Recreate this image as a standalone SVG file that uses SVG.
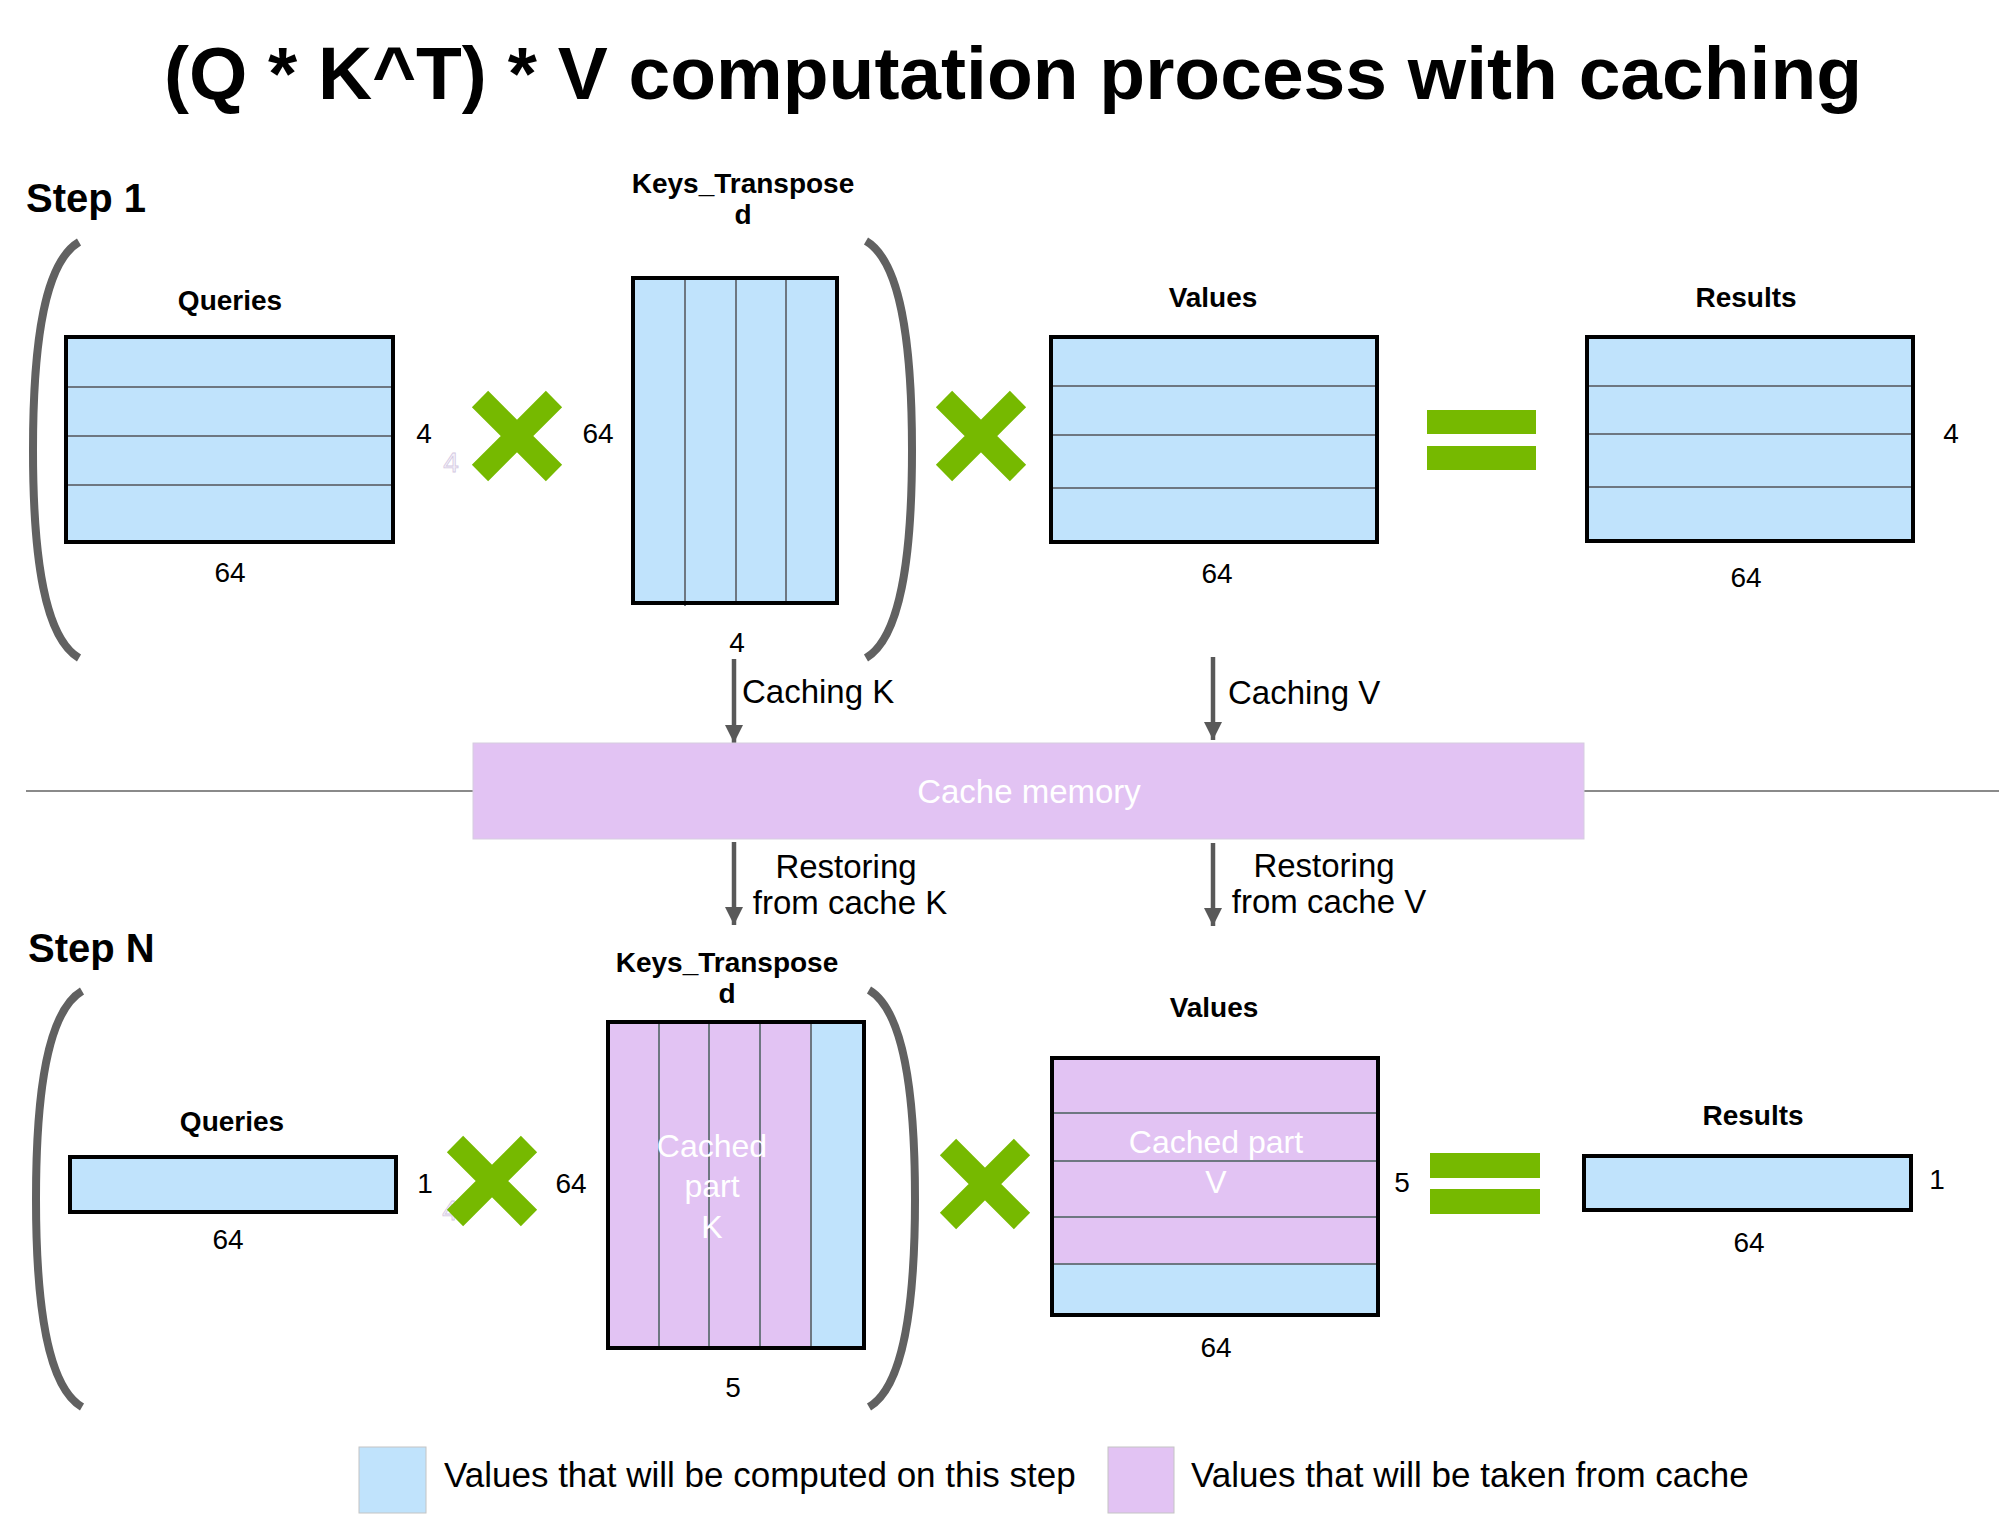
<svg xmlns="http://www.w3.org/2000/svg" width="1999" height="1519" viewBox="0 0 1999 1519">
<defs>
<style>
.bold{font-family:"Liberation Sans",Arial,sans-serif;font-weight:bold;fill:#000}
.reg{font-family:"Liberation Sans",Arial,sans-serif;fill:#000}
.lbl{font-size:28px;text-anchor:middle}
.num{font-size:28px;text-anchor:middle}
.ann{font-size:33px}
.white{fill:#ffffff}
.blue{fill:#C0E3FC}
.purple{fill:#E2C3F3}
.frame{fill:none;stroke:#000;stroke-width:4}
.row{stroke:#6E7781;stroke-width:2}
.bracket{fill:none;stroke:#616161;stroke-width:8}
.times{stroke:#76B900;stroke-width:23;stroke-linecap:butt}
.eq{fill:#76B900}
.arrow{stroke:#595959;stroke-width:4.5;fill:none;marker-end:url(#ah)}
.faint{font-family:"Liberation Sans",Arial,sans-serif;font-size:28px;fill:#f6f2fa;stroke:#d4c9e2;stroke-width:0.8;text-anchor:middle}
</style>
<marker id="ah" viewBox="0 0 10 10" refX="10" refY="5" markerWidth="18" markerHeight="20" markerUnits="userSpaceOnUse" orient="auto">
<path d="M0,0 L10,5 L0,10 Z" fill="#595959"/>
</marker>
</defs>
<rect width="1999" height="1519" fill="#ffffff"/>

<g id="title">
<text class="bold" x="1013" y="99" font-size="75" text-anchor="middle">(Q * K^T) * V computation process with caching</text>
</g>

<g id="connectors">
<line x1="26" y1="791" x2="1999" y2="791" stroke="#8a8a8a" stroke-width="2"/>
<line class="arrow" x1="734" y1="659" x2="734" y2="743"/>
<line class="arrow" x1="1213" y1="657" x2="1213" y2="740"/>
<line class="arrow" x1="734" y1="842" x2="734" y2="925"/>
<line class="arrow" x1="1213" y1="843" x2="1213" y2="926"/>
<text class="reg ann" x="742" y="703">Caching K</text>
<text class="reg ann" x="1228" y="704">Caching V</text>
<text class="reg ann" x="846" y="878" text-anchor="middle">Restoring</text>
<text class="reg ann" x="850" y="914" text-anchor="middle">from cache K</text>
<text class="reg ann" x="1324" y="877" text-anchor="middle">Restoring</text>
<text class="reg ann" x="1329" y="913" text-anchor="middle">from cache V</text>
</g>

<g id="cache-memory">
<rect x="473" y="743" width="1111" height="96" fill="#E2C3F3" stroke="#d6cde0" stroke-width="1"/>
<text class="reg white" x="1029" y="803" font-size="33" text-anchor="middle">Cache memory</text>
</g>

<!-- STEP 1 -->
<g id="step1-label"><text class="bold" x="26" y="212" font-size="40">Step 1</text></g>

<g id="step1-brackets">
<path class="bracket" d="M79,242 C45,262 33,340 33,450 C33,560 45,638 79,658"/>
<path class="bracket" d="M866,241 C900,261 912,340 912,450 C912,560 900,638 866,658"/>
</g>

<g id="step1-queries">
<text class="bold lbl" x="230" y="310">Queries</text>
<rect class="blue" x="66" y="337" width="327" height="205"/>
<line class="row" x1="66" y1="387" x2="393" y2="387"/>
<line class="row" x1="66" y1="436" x2="393" y2="436"/>
<line class="row" x1="66" y1="485" x2="393" y2="485"/>
<rect class="frame" x="66" y="337" width="327" height="205"/>
<text class="reg num" x="230" y="582">64</text>
<text class="reg num" x="424" y="443">4</text>
<text class="faint" x="451" y="472">4</text>
</g>

<g id="step1-times1"><path class="times" d="M480,399 L554,473 M554,399 L480,473"/></g>

<g id="step1-keys">
<text class="bold lbl" x="743" y="193">Keys_Transpose</text>
<text class="bold lbl" x="743" y="224">d</text>
<text class="reg num" x="598" y="443">64</text>
<rect class="blue" x="633" y="278" width="204" height="325"/>
<line class="row" x1="685" y1="278" x2="685" y2="606"/>
<line class="row" x1="736" y1="278" x2="736" y2="603"/>
<line class="row" x1="786" y1="278" x2="786" y2="603"/>
<rect class="frame" x="633" y="278" width="204" height="325"/>
<text class="reg num" x="737" y="652">4</text>
</g>

<g id="step1-times2"><path class="times" d="M944,399 L1018,473 M1018,399 L944,473"/></g>

<g id="step1-values">
<text class="bold lbl" x="1213" y="307">Values</text>
<rect class="blue" x="1051" y="337" width="326" height="205"/>
<line class="row" x1="1051" y1="386" x2="1377" y2="386"/>
<line class="row" x1="1051" y1="435" x2="1377" y2="435"/>
<line class="row" x1="1051" y1="488" x2="1377" y2="488"/>
<rect class="frame" x="1051" y="337" width="326" height="205"/>
<text class="reg num" x="1217" y="583">64</text>
</g>

<g id="step1-equals">
<rect class="eq" x="1427" y="410" width="109" height="24"/>
<rect class="eq" x="1427" y="446" width="109" height="24"/>
</g>

<g id="step1-results">
<text class="bold lbl" x="1746" y="307">Results</text>
<rect class="blue" x="1587" y="337" width="326" height="204"/>
<line class="row" x1="1587" y1="386" x2="1913" y2="386"/>
<line class="row" x1="1587" y1="434" x2="1913" y2="434"/>
<line class="row" x1="1587" y1="487" x2="1913" y2="487"/>
<rect class="frame" x="1587" y="337" width="326" height="204"/>
<text class="reg num" x="1746" y="587">64</text>
<text class="reg num" x="1951" y="443">4</text>
</g>

<!-- STEP N -->
<g id="stepN-label"><text class="bold" x="28" y="962" font-size="40">Step N</text></g>

<g id="stepN-brackets">
<path class="bracket" d="M82,991 C48,1011 36,1090 36,1199 C36,1308 48,1387 82,1407"/>
<path class="bracket" d="M869,990 C903,1010 915,1090 915,1199 C915,1308 903,1387 869,1407"/>
</g>

<g id="stepN-queries">
<text class="bold lbl" x="232" y="1131">Queries</text>
<rect class="blue" x="70" y="1157" width="326" height="55"/>
<rect class="frame" x="70" y="1157" width="326" height="55"/>
<text class="reg num" x="228" y="1249">64</text>
<text class="reg num" x="425" y="1193">1</text>
<text class="faint" x="450" y="1220">4</text>
</g>

<g id="stepN-times1"><path class="times" d="M455,1144 L529,1218 M529,1144 L455,1218"/></g>

<g id="stepN-keys">
<text class="bold lbl" x="727" y="972">Keys_Transpose</text>
<text class="bold lbl" x="727" y="1003">d</text>
<text class="reg num" x="571" y="1193">64</text>
<rect class="purple" x="608" y="1022" width="203" height="326"/>
<rect class="blue" x="811" y="1022" width="53" height="326"/>
<line class="row" x1="659" y1="1022" x2="659" y2="1348"/>
<line class="row" x1="709" y1="1022" x2="709" y2="1348"/>
<line class="row" x1="760" y1="1022" x2="760" y2="1348"/>
<line class="row" x1="811" y1="1022" x2="811" y2="1348"/>
<rect class="frame" x="608" y="1022" width="256" height="326"/>
<text class="reg white" x="712" y="1157" font-size="32" text-anchor="middle">Cached</text>
<text class="reg white" x="712" y="1197" font-size="32" text-anchor="middle">part</text>
<text class="reg white" x="712" y="1238" font-size="32" text-anchor="middle">K</text>
<text class="reg num" x="733" y="1397">5</text>
</g>

<g id="stepN-times2"><path class="times" d="M948,1147 L1022,1221 M1022,1147 L948,1221"/></g>

<g id="stepN-values">
<text class="bold lbl" x="1214" y="1017">Values</text>
<rect class="purple" x="1052" y="1058" width="326" height="206"/>
<rect class="blue" x="1052" y="1264" width="326" height="51"/>
<line class="row" x1="1052" y1="1113" x2="1378" y2="1113"/>
<line class="row" x1="1052" y1="1161" x2="1378" y2="1161"/>
<line class="row" x1="1052" y1="1217" x2="1378" y2="1217"/>
<line class="row" x1="1052" y1="1264" x2="1378" y2="1264"/>
<rect class="frame" x="1052" y="1058" width="326" height="257"/>
<text class="reg white" x="1216" y="1153" font-size="32" text-anchor="middle">Cached part</text>
<text class="reg white" x="1216" y="1193" font-size="32" text-anchor="middle">V</text>
<text class="reg num" x="1402" y="1192">5</text>
<text class="reg num" x="1216" y="1357">64</text>
</g>

<g id="stepN-equals">
<rect class="eq" x="1430" y="1153" width="110" height="25"/>
<rect class="eq" x="1430" y="1189" width="110" height="25"/>
</g>

<g id="stepN-results">
<text class="bold lbl" x="1753" y="1125">Results</text>
<rect class="blue" x="1584" y="1156" width="327" height="54"/>
<rect class="frame" x="1584" y="1156" width="327" height="54"/>
<text class="reg num" x="1749" y="1252">64</text>
<text class="reg num" x="1937" y="1189">1</text>
</g>

<g id="legend">
<rect class="blue" x="359" y="1447" width="67" height="66" stroke="#c4c4c4" stroke-width="1"/>
<text class="reg" x="444" y="1487" font-size="35">Values that will be computed on this step</text>
<rect class="purple" x="1108" y="1447" width="66" height="66" stroke="#c4c4c4" stroke-width="1"/>
<text class="reg" x="1191" y="1487" font-size="35">Values that will be taken from cache</text>
</g>
</svg>
